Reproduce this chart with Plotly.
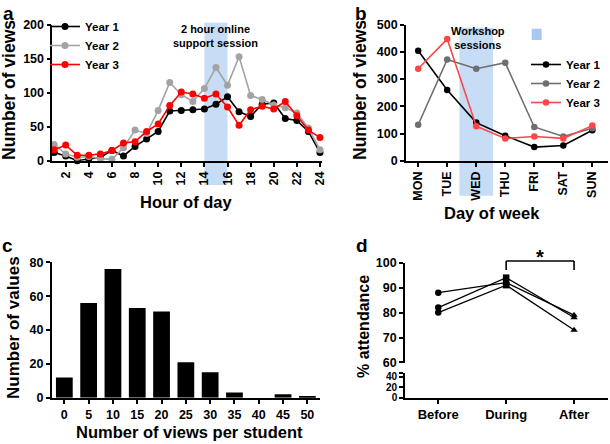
import plotly.graph_objects as go

# ---------------- data ----------------
hours = list(range(1, 25))
hour_y1 = [12, 7, 0, 3, 5, 15, 7, 21, 32, 43, 73, 74, 75, 76, 83, 94, 72, 65, 83, 85, 62, 59, 43, 12]
hour_y2 = [24, 10, 5, 6, 3, 2, 19, 45, 40, 74, 115, 97, 87, 106, 137, 111, 153, 96, 90, 82, 78, 70, 48, 16]
hour_y3 = [16, 23, 8, 8, 10, 15, 26, 28, 43, 54, 81, 101, 98, 92, 98, 79, 52, 75, 80, 76, 87, 66, 45, 34]
hour_ticks = list(range(2, 25, 2))

days = ["MON", "TUE", "WED", "THU", "FRI", "SAT", "SUN"]
day_y1 = [404, 260, 140, 92, 50, 56, 112]
day_y2 = [132, 372, 338, 360, 124, 89, 119]
day_y3 = [338, 447, 127, 82, 89, 82, 129]

views_bins = [0, 5, 10, 15, 20, 25, 30, 35, 40, 45, 50]
views_counts = [12, 56, 76, 53, 51, 21, 15, 3, 0, 2, 1]

phases = ["Before", "During", "After"]
attend = [
    [88, 92, 79],
    [82, 94, 78],
    [80, 91, 73],
]

FONT = "Liberation Sans"
W, H = 610, 444


def px(x):
    return x / W


def py(y):
    return 1 - y / H


fig = go.Figure()

# ---- panel a ----
for name, ys, col in [("Year 1", hour_y1, "black"), ("Year 2", hour_y2, "#a3a3a3"), ("Year 3", hour_y3, "#ff0000")]:
    fig.add_trace(go.Scatter(x=hours, y=ys, name=name, mode="lines+markers",
                             line=dict(color=col, width=1.6), marker=dict(color=col, size=7),
                             cliponaxis=False, xaxis="x", yaxis="y", legend="legend"))

# ---- panel b ----
for name, ys, col in [("Year 1", day_y1, "black"), ("Year 2", day_y2, "#6e6e6e"), ("Year 3", day_y3, "#ff4545")]:
    fig.add_trace(go.Scatter(x=list(range(len(days))), y=ys, name=name, mode="lines+markers",
                             line=dict(color=col, width=1.6), marker=dict(color=col, size=6.5),
                             cliponaxis=False, xaxis="x2", yaxis="y2", legend="legend2"))

# ---- panel c ----
fig.add_trace(go.Bar(x=views_bins, y=views_counts, width=3.45, marker=dict(color="black", line=dict(width=0)),
                     showlegend=False, xaxis="x3", yaxis="y3"))

# ---- panel d ----
for row in attend:
    fig.add_trace(go.Scatter(x=list(range(len(phases))), y=row, mode="lines+markers",
                             line=dict(color="black", width=1.3),
                             marker=dict(color="black", size=6.5, symbol=["circle", "square", "triangle-up"]),
                             cliponaxis=False, showlegend=False, xaxis="x4", yaxis="y4"))
# empty trace so the lower broken segment exists
fig.add_trace(go.Scatter(x=[None], y=[None], showlegend=False, xaxis="x4", yaxis="y5"))

axis_common = dict(showgrid=False, zeroline=False, showline=True, linecolor="black", linewidth=1.6,
                   ticks="outside", ticklen=4, tickwidth=1.5, tickcolor="black",
                   tickfont=dict(family=FONT, size=12.5, color="black", weight="bold"))

fig.update_layout(
    width=W, height=H, margin=dict(l=0, r=0, t=0, b=0, autoexpand=False),
    plot_bgcolor="white", paper_bgcolor="white",
    font=dict(family=FONT, color="black"),
    xaxis=dict(axis_common, domain=[px(52.3), px(321.7)], range=[0.84, 24.15], anchor="y",
               tickvals=hour_ticks, tickangle=-90),
    yaxis=dict(axis_common, domain=[py(160.7), py(24.7)], range=[0, 200], anchor="x",
               tickvals=[0, 50, 100, 150, 200]),
    xaxis2=dict(axis_common, domain=[px(406), px(608)], range=[-0.42, 6.54], anchor="y2",
                tickvals=list(range(len(days))), ticktext=days, tickangle=-90),
    yaxis2=dict(axis_common, domain=[py(160.7), py(24.7)], range=[0, 500], anchor="x2",
                tickvals=[0, 100, 200, 300, 400, 500]),
    xaxis3=dict(axis_common, domain=[px(51.7), px(320)], range=[-2.6, 52.6], anchor="y3",
                tickvals=views_bins, ticks="outside"),
    yaxis3=dict(axis_common, domain=[py(397.7), py(262.3)], range=[0, 80], anchor="x3",
                tickvals=[0, 20, 40, 60, 80]),
    xaxis4=dict(axis_common, domain=[px(405), px(608)], range=[-0.49, 2.5], anchor="y5",
                tickvals=list(range(len(phases))), ticktext=phases,
                tickfont=dict(family=FONT, size=13, color="black", weight="bold")),
    yaxis4=dict(axis_common, domain=[py(362.7), py(262.7)], range=[59.9, 100], anchor="x4",
                tickvals=[60, 70, 80, 90, 100]),
    yaxis5=dict(axis_common, domain=[py(397.7), py(373.3)], range=[0, 46.5], anchor="x4",
                tickvals=[0, 20, 40, 46.4], ticktext=["0", "20", "40", ""],
                tickfont=dict(family=FONT, size=10, color="black", weight="bold")),
    legend=dict(x=px(45), y=py(12), xanchor="left", yanchor="top", bgcolor="rgba(0,0,0,0)",
                font=dict(family=FONT, size=11.5, color="black", weight="bold"), itemwidth=30),
    legend2=dict(x=px(526), y=py(50), xanchor="left", yanchor="top", bgcolor="rgba(0,0,0,0)",
                 font=dict(family=FONT, size=11.5, color="black", weight="bold"), itemwidth=30),
)

shade = "#c7dcf5"
fig.add_shape(type="rect", xref="x", yref="paper", x0=14, x1=16, y0=py(185), y1=py(22.7),
              fillcolor=shade, line=dict(width=0), layer="below")
fig.add_shape(type="rect", xref="x2", yref="paper", x0=2 - 0.58, x1=2 + 0.58, y0=py(195.7), y1=py(27.7),
              fillcolor=shade, line=dict(width=0), layer="below")
fig.add_shape(type="rect", xref="paper", yref="paper", x0=px(531.7), x1=px(541.7), y0=py(40), y1=py(28.7),
              fillcolor="#a9c8f0", line=dict(width=0))

# significance bracket in panel d
br_top, br_bot = py(261), py(270)
for (x0, y0, x1, y1) in [(1, br_top, 2, br_top), (1, br_top, 1, br_bot), (2, br_top, 2, br_bot)]:
    fig.add_shape(type="line", xref="x4", yref="paper", x0=x0, x1=x1, y0=y0, y1=y1,
                  line=dict(color="black", width=1.6))

def ann(text, x, y, size, angle=0, xanchor="center", yanchor="middle"):
    fig.add_annotation(text=text, x=px(x), y=py(y), xref="paper", yref="paper", showarrow=False,
                       textangle=angle, xanchor=xanchor, yanchor=yanchor,
                       font=dict(family=FONT, size=size, color="black", weight="bold"))

ann("*", 540, 257, 20)
ann("a", 8, 13, 19)
ann("b", 361, 13, 19)
ann("c", 7, 245, 19)
ann("d", 362, 245, 19)
ann("Number of views", 9, 90, 17.5, angle=-90)
ann("Number of views", 360, 90, 17.5, angle=-90)
ann("Number of values", 13, 328, 17, angle=-90)
ann("% attendance", 363, 327, 16, angle=-90)
ann("Hour of day", 186.5, 202, 16.5)
ann("Day of week", 492, 213, 16.5)
ann("Number of views per student", 189, 432, 16.5)
ann("2 hour online<br>support session", 215, 36, 11)
ann("Workshop<br>sessions", 478, 38, 11)

fig.write_html("out.html", config={"displayModeBar": False},
               post_script="document.body.style.margin='0';document.body.style.padding='0';"
                           "document.body.style.overflow='hidden';")
